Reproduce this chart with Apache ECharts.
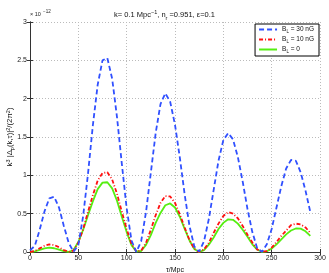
<!DOCTYPE html>
<html><head><meta charset="utf-8">
<script src="https://cdn.jsdelivr.net/npm/echarts@6/dist/echarts.min.js"></script>
<style>html,body{margin:0;padding:0;background:#fff}#c{width:329px;height:273px}</style>
</head><body><div id="c"></div>
<script>
const tau = [0,5,10,15,20,25,30,35,40,45,50,55,60,65,70,75,80,85,90,95,100,105,110,115,120,125,130,135,140,145,150,155,160,165,170,175,180,185,190,195,200,205,210,215,220,225,230,235,240,245,250,255,260,265,270,275,280,285,290];
const blue30 = [0.02,0.08,0.29,0.53,0.70,0.72,0.58,0.34,0.12,0.004,0.09,0.47,1.02,1.65,2.18,2.50,2.53,2.26,1.76,1.15,0.57,0.15,0.0,0.14,0.52,1.035,1.55,1.93,2.07,1.96,1.66,1.23,0.75,0.34,0.07,0.004,0.14,0.43,0.81,1.19,1.46,1.55,1.47,1.24,0.92,0.56,0.26,0.05,0.003,0.10,0.30,0.58,0.86,1.09,1.20,1.19,1.04,0.80,0.52];
const red10 = [0.0,0.013,0.047,0.081,0.099,0.091,0.062,0.025,0.002,0.018,0.12,0.30,0.525,0.74,0.93,1.03,1.04,0.945,0.76,0.525,0.30,0.105,0.009,0.018,0.12,0.29,0.48,0.64,0.73,0.725,0.64,0.49,0.32,0.155,0.04,0.0,0.033,0.12,0.25,0.37,0.47,0.52,0.50,0.44,0.34,0.225,0.125,0.034,0.001,0.012,0.057,0.13,0.21,0.28,0.35,0.37,0.36,0.32,0.25];
const green0 = [0.0,0.008,0.028,0.048,0.056,0.049,0.030,0.011,0.0003,0.026,0.13,0.29,0.48,0.66,0.82,0.905,0.91,0.83,0.67,0.46,0.26,0.09,0.007,0.013,0.093,0.22,0.38,0.51,0.61,0.633,0.58,0.46,0.30,0.15,0.039,0.0,0.025,0.095,0.19,0.30,0.38,0.426,0.42,0.37,0.29,0.20,0.10,0.032,0.001,0.009,0.044,0.10,0.165,0.23,0.28,0.307,0.305,0.27,0.21];
const seriesNames = ['B_L = 30 nG','B_L = 10 nG','B_L = 0'];
const xTicks = [0,50,100,150,200,250,300];
const yTicks = [0,0.5,1,1.5,2,2.5,3];

const pair = arr => tau.map((t,i)=>[t,arr[i]]);
const chart = echarts.init(document.getElementById('c'));
const FF = 'Liberation Sans, Arial, sans-serif';
const tickStyle = {fontSize:7, color:'#222', fontFamily:FF};
const frame = {show:true, lineStyle:{color:'#333', width:1}};
chart.setOption({
  animation:false,
  title:{
    text:'{a|k= 0.1 Mpc}{sup|−1}{a|, n}{sub|r}{a| =0.951, ε=0.1}',
    left:'center', top:4,
    textStyle:{fontWeight:'normal', rich:{
      a:{fontSize:7.5,fontFamily:FF,color:'#111',fontWeight:'normal'},
      sup:{fontSize:5.5,fontFamily:FF,color:'#111',fontWeight:'normal',verticalAlign:'bottom',padding:[0,0,6,0]},
      sub:{fontSize:5.5,fontFamily:FF,color:'#111',fontWeight:'normal',verticalAlign:'top',padding:[6,0,0,0]}
    }}
  },
  graphic:[{
    type:'text', left:30, top:11,
    style:{text:'× 10', fontSize:5.5, fontFamily:FF, fill:'#222'}
  },{
    type:'text', left:43, top:9,
    style:{text:'−12', fontSize:4.5, fontFamily:FF, fill:'#222'}
  },{
    type:'text', x:10, y:137, rotation:Math.PI/2,
    style:{
      text:'{a|k}{sup|3}{a| |Δ}{sub|p}{a|(k,τ)|}{sup|2}{a|/(2π}{sup|2}{a|)}',
      align:'center', verticalAlign:'middle',
      rich:{
        a:{fontSize:7.8,fontFamily:FF,fill:'#111'},
        sup:{fontSize:5.5,fontFamily:FF,fill:'#111',verticalAlign:'bottom',padding:[0,0,4,0]},
        sub:{fontSize:5.5,fontFamily:FF,fill:'#111',verticalAlign:'top',padding:[4,0,0,0]}
      }
    }
  }],
  legend:{
    show:true, right:10, top:24, orient:'vertical',
    borderColor:'#000', borderWidth:1, backgroundColor:'#fff', borderRadius:0,
    padding:[2,5,2,3], itemGap:2, itemWidth:18, itemHeight:6,
    itemStyle:{color:'transparent', borderWidth:0},
    data:seriesNames,
    formatter: n => '{a|B}{s|L}{a|' + n.slice(3) + '}',
    textStyle:{fontSize:6.5, color:'#111', rich:{
      a:{fontSize:6.5,fontFamily:FF,color:'#111'},
      s:{fontSize:4.5,fontFamily:FF,color:'#111',verticalAlign:'top',padding:[4,0,0,0]}
    }}
  },
  grid:{left:30, right:9, top:22, bottom:21, containLabel:false, outerBoundsMode:'none'},
  xAxis:[{
    type:'value', min:0, max:300, interval:50,
    name:'τ/Mpc', nameLocation:'middle', nameGap:9,
    nameTextStyle:{fontSize:7,fontFamily:FF,color:'#111'},
    axisLine:frame, axisTick:{show:true, inside:true, length:3, lineStyle:{color:'#333'}},
    axisLabel:Object.assign({margin:3, formatter:v=>xTicks.includes(v)?String(v):''},tickStyle),
    splitLine:{show:true, lineStyle:{color:'#bbb', type:[1,2], width:1}}
  },{
    type:'value', min:0, max:300, interval:50, position:'top',
    axisLine:frame, axisTick:{show:true, inside:true, length:3, lineStyle:{color:'#333'}},
    axisLabel:{show:false}, splitLine:{show:false}
  }],
  yAxis:[{
    type:'value', min:0, max:3, interval:0.5,
    axisLine:frame, axisTick:{show:true, inside:true, length:3, lineStyle:{color:'#333'}},
    axisLabel:Object.assign({margin:3, formatter:v=>yTicks.includes(v)?String(v):''},tickStyle),
    splitLine:{show:true, lineStyle:{color:'#bbb', type:[1,2], width:1}}
  },{
    type:'value', min:0, max:3, interval:0.5, position:'right',
    axisLine:frame, axisTick:{show:true, inside:true, length:3, lineStyle:{color:'#333'}},
    axisLabel:{show:false}, splitLine:{show:false}
  }],
  series:[{
    name:seriesNames[0], type:'line', data:pair(blue30), showSymbol:false, symbol:'none',
    smooth:false, color:'#3050ff',
    lineStyle:{color:'#3050ff', width:1.8, type:[5,3]}, z:3
  },{
    name:seriesNames[1], type:'line', data:pair(red10), showSymbol:false, symbol:'none',
    smooth:false, color:'#ff1010',
    lineStyle:{color:'#ff1010', width:1.8, type:[4,2,1,2]}, z:2
  },{
    name:seriesNames[2], type:'line', data:pair(green0), showSymbol:false, symbol:'none',
    smooth:false, color:'#55ee11',
    lineStyle:{color:'#55ee11', width:1.8}, z:1
  }]
});
</script></body></html>
